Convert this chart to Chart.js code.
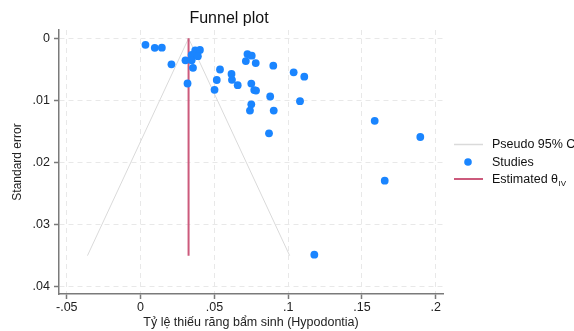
<!DOCTYPE html>
<html>
<head>
<meta charset="utf-8">
<script src="https://cdn.jsdelivr.net/npm/chart.js@4"></script>
<style>
  html, body { margin: 0; padding: 0; background: #fff; }
</style>
</head>
<body>
<canvas id="funnelChart" width="574" height="331"></canvas>
<script>
// study effect sizes (prevalence) and their standard errors
const effectSizes = [0.0033, 0.0096, 0.0144, 0.0209, 0.0304, 0.0318, 0.0346, 0.0346, 0.0370, 0.0402,
  0.0388, 0.0355, 0.0501, 0.0516, 0.0538, 0.0616, 0.0619, 0.0658, 0.0713, 0.0724,
  0.0753, 0.0780, 0.0750, 0.0770, 0.0782, 0.0750, 0.0741, 0.0899, 0.0878, 0.0902,
  0.0870, 0.1037, 0.1109, 0.1080, 0.1586, 0.1895, 0.1654, 0.1177];
const standardErrors = [0.00105, 0.00153, 0.00151, 0.00419, 0.00354, 0.00728, 0.00269, 0.00354, 0.00196, 0.00188,
  0.00288, 0.00475, 0.00829, 0.00671, 0.00502, 0.00575, 0.00668, 0.00755, 0.00366, 0.00253,
  0.00280, 0.00398, 0.00729, 0.00833, 0.00841, 0.01063, 0.01163, 0.00441, 0.00937, 0.01163,
  0.01530, 0.00548, 0.00618, 0.01013, 0.01329, 0.01589, 0.02293, 0.03485];

// pseudo 95% CI funnel and estimated theta line
const funnelX = [-0.036, 0.0325, 0.101];
const funnelSE = [0.035, 0, 0.035];
const thetaX = [0.0325, 0.0325];
const thetaSE = [0, 0.035];

const xTicks = [-0.05, 0, 0.05, 0.1, 0.15, 0.2];
const xTickLabels = ["-.05", "0", ".05", ".1", ".15", ".2"];
const yTicks = [0, 0.01, 0.02, 0.03, 0.04];
const yTickLabels = ["0", ".01", ".02", ".03", ".04"];

const FONT = '"Liberation Sans", Arial, Helvetica, sans-serif';
const BLUE = "#1a85ff";
const RED = "#cc5a7c";
const CI_GREY = "#dadada";
const AXIS_GREY = "#7a7a7a";

const toPoints = (xs, ys) => xs.map((x, i) => ({ x: x, y: ys[i] }));

// title and legend drawn on the canvas
const overlay = {
  id: "overlay",
  afterDraw(chart) {
    const ctx = chart.ctx;
    ctx.save();
    ctx.fillStyle = "#111";
    ctx.textBaseline = "middle";
    ctx.textAlign = "center";
    ctx.font = "16px " + FONT;
    ctx.fillText("Funnel plot", 229, 19);

    ctx.textAlign = "left";
    ctx.font = "12.5px " + FONT;
    // pseudo CI
    ctx.strokeStyle = CI_GREY;
    ctx.lineWidth = 1.5;
    ctx.beginPath(); ctx.moveTo(454, 144.5); ctx.lineTo(483, 144.5); ctx.stroke();
    ctx.fillText("Pseudo 95% CI", 492, 145);
    // studies
    ctx.fillStyle = BLUE;
    ctx.beginPath(); ctx.arc(468, 162, 3.8, 0, Math.PI * 2); ctx.fill();
    ctx.fillStyle = "#111";
    ctx.fillText("Studies", 492, 162.5);
    // theta
    ctx.strokeStyle = RED;
    ctx.lineWidth = 2;
    ctx.beginPath(); ctx.moveTo(454, 179); ctx.lineTo(483, 179); ctx.stroke();
    ctx.fillText("Estimated θ", 492, 180);
    const w = ctx.measureText("Estimated θ").width;
    ctx.font = "8px " + FONT;
    ctx.fillText("IV", 492 + w + 0.5, 184);
    ctx.restore();
  }
};

new Chart(document.getElementById("funnelChart"), {
  type: "scatter",
  data: {
    datasets: [
      {
        label: "Studies",
        data: toPoints(effectSizes, standardErrors),
        backgroundColor: BLUE,
        borderWidth: 0,
        pointRadius: 3.9,
        order: 1,
      },
      {
        label: "Estimated θIV",
        data: toPoints(thetaX, thetaSE),
        showLine: true,
        borderColor: RED,
        borderWidth: 2,
        pointRadius: 0,
        order: 2,
      },
      {
        label: "Pseudo 95% CI",
        data: toPoints(funnelX, funnelSE),
        showLine: true,
        borderColor: CI_GREY,
        borderWidth: 1,
        pointRadius: 0,
        order: 3,
      },
    ],
  },
  options: {
    responsive: false,
    animation: false,
    layout: { padding: { top: 30, right: 131, left: 0, bottom: 0 } },
    plugins: {
      legend: { display: false },
      title: { display: false },
      tooltip: { enabled: false },
    },
    scales: {
      x: {
        type: "linear",
        min: -0.05528,
        max: 0.20488,
        afterBuildTicks: (s) => { s.ticks = xTicks.map((v) => ({ value: v })); },
        afterFit: (s) => { s.height = 37; },
        ticks: {
          callback: (v, i) => xTickLabels[i],
          color: "#222",
          font: { family: FONT, size: 12.5 },
          padding: 1,
          maxRotation: 0,
        },
        grid: {
          color: "#e8e8e8",
          lineWidth: 1,
          tickColor: AXIS_GREY,
          tickLength: 5,
          tickWidth: 1.5,
          tickBorderDash: [],
        },
        border: { color: AXIS_GREY, width: 1.5, dash: [5, 4] },
        title: {
          display: true,
          text: "Tỷ lệ thiếu răng bẩm sinh (Hypodontia)",
          color: "#222",
          font: { family: FONT, size: 12.5 },
          padding: { top: 0, bottom: 1 },
        },
      },
      y: {
        type: "linear",
        reverse: true,
        min: -0.00134,
        max: 0.04118,
        afterBuildTicks: (s) => { s.ticks = yTicks.map((v) => ({ value: v })); },
        afterFit: (s) => { s.width = 59; },
        ticks: {
          callback: (v, i) => yTickLabels[i],
          color: "#222",
          font: { family: FONT, size: 12.5 },
          padding: 4,
        },
        grid: {
          color: "#e8e8e8",
          lineWidth: 1,
          tickColor: AXIS_GREY,
          tickLength: 5,
          tickWidth: 1.5,
          tickBorderDash: [],
        },
        border: { color: AXIS_GREY, width: 1.5, dash: [5, 4] },
        title: {
          display: true,
          text: "Standard error",
          color: "#222",
          font: { family: FONT, size: 12 },
          padding: { top: 10, bottom: 0 },
        },
      },
    },
  },
  plugins: [overlay],
});
</script>
</body>
</html>
